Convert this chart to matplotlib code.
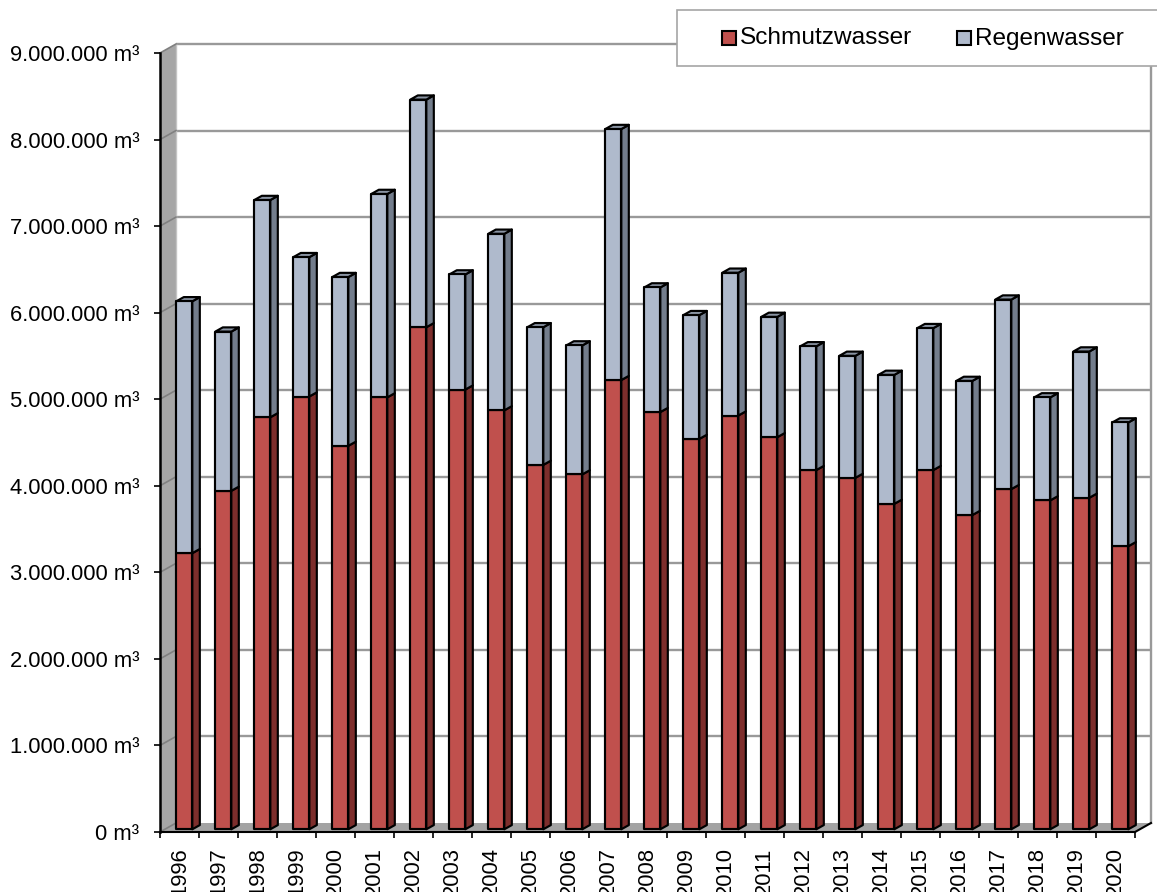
import matplotlib
matplotlib.use("Agg")
import matplotlib.pyplot as plt
from matplotlib.patches import Polygon, Rectangle
import numpy as np

# ---- data ----
years = [str(y) for y in range(1996, 2021)]
schmutzwasser = [3.19, 3.91, 4.76, 5.00, 4.43, 4.99, 5.80, 5.08, 4.84, 4.21,
                 4.10, 5.19, 4.82, 4.51, 4.78, 4.53, 4.15, 4.06, 3.76, 4.15,
                 3.63, 3.93, 3.80, 3.83, 3.27]          # million m³
gesamt = [6.10, 5.75, 7.27, 6.61, 6.38, 7.34, 8.43, 6.41, 6.88, 5.80,
          5.59, 8.09, 6.26, 5.94, 6.43, 5.92, 5.58, 5.47, 5.25, 5.79,
          5.18, 6.12, 4.99, 5.52, 4.70]                 # million m³ (total)
regenwasser = [g - s for g, s in zip(gesamt, schmutzwasser)]
series_names = ["Schmutzwasser", "Regenwasser"]
y_ticks = [0, 1, 2, 3, 4, 5, 6, 7, 8, 9]               # million m³

# ---- style ----
W, H = 1157, 892
plt.rcParams['font.family'] = ['Liberation Sans', 'DejaVu Sans']
red_front, red_side, red_top = "#c0504d", "#7d2e2c", "#9a3e3c"
blue_front, blue_side, blue_top = "#afbacc", "#737d8c", "#8a94a3"
wall_col = "#a6a6a6"
floor_col = "#a3a3a3"
grid_col = "#999999"

fig = plt.figure(figsize=(W / 100, H / 100), dpi=100)
ax = fig.add_axes([160 / W, (H - 832) / H, 975 / W, (832 - 53) / H])
n = len(years)
ymax = 9e6
ax.set_xlim(0, n)
ax.set_ylim(0, ymax)
ax.patch.set_visible(False)

# depth vector (back wall offset) in data units
px_per_cat = 975 / n
px_per_unit = (832 - 53) / ymax
Dx = 16 / px_per_cat
Dy = 9 / px_per_unit
f_front, g_depth = 0.30, 0.47
bar_w = 16 / px_per_cat

# side wall
ax.add_patch(Polygon([(0, 0), (Dx, Dy), (Dx, ymax + Dy), (0, ymax)],
                     closed=True, facecolor=wall_col, edgecolor="none",
                     zorder=0.2, clip_on=False))
# floor
ax.add_patch(Polygon([(0, 0), (n, 0), (n + Dx, Dy), (Dx, Dy)],
                     closed=True, facecolor=floor_col, edgecolor="none",
                     zorder=0.2, clip_on=False))
# gridlines (back wall + side wall diagonals)
for t in y_ticks:
    v = t * 1e6
    if t > 0:
        ax.plot([Dx, n + Dx], [v + Dy, v + Dy], color=grid_col, lw=1.7,
                zorder=0.5, clip_on=False, solid_capstyle='butt')
    ax.plot([0, Dx], [v, v + Dy], color="#808080", lw=1.2, zorder=0.6,
            clip_on=False)
# back wall right edge and left edge
ax.plot([n + Dx, n + Dx], [Dy, ymax + Dy], color=grid_col, lw=1.7,
        zorder=0.5, clip_on=False)
ax.plot([Dx, Dx], [Dy, ymax + Dy], color="#c4c4c4", lw=1.0,
        zorder=0.55, clip_on=False)
# right floor diagonal edge
ax.plot([n, n + Dx], [0, Dy], color="black", lw=1.5, zorder=3, clip_on=False)


def shifted(pts, frac):
    return [(x + frac * Dx, y + frac * Dy) for x, y in pts]


def draw_segment(x0, y0, y1, front, side, top, draw_top):
    x1 = x0 + bar_w
    f, b = f_front, f_front + g_depth
    ec = "black"
    lw = 1.55
    # side face
    side_pts = shifted([(x1, y0)], f) + shifted([(x1, y0)], b) + \
        shifted([(x1, y1)], b) + shifted([(x1, y1)], f)
    ax.add_patch(Polygon(side_pts, closed=True, facecolor=side, edgecolor=ec,
                         lw=lw, zorder=2, clip_on=False, joinstyle='round'))
    if draw_top:
        top_pts = shifted([(x0, y1), (x1, y1)], f) + shifted([(x1, y1), (x0, y1)], b)
        ax.add_patch(Polygon(top_pts, closed=True, facecolor=top, edgecolor=ec,
                             lw=lw, zorder=2, clip_on=False, joinstyle='round'))
    fx, fy = shifted([(x0, y0)], f)[0]
    ax.add_patch(Rectangle((fx, fy), bar_w, y1 - y0, facecolor=front,
                           edgecolor=ec, lw=lw, zorder=2.1, clip_on=False,
                           joinstyle='round'))


for i in range(n):
    x0 = i + 0.5 - bar_w / 2
    s = schmutzwasser[i] * 1e6
    r = regenwasser[i] * 1e6
    draw_segment(x0, 0, s, red_front, red_side, red_top, False)
    draw_segment(x0, s, s + r, blue_front, blue_side, blue_top, True)

# axes / spines
for sp in ["top", "right"]:
    ax.spines[sp].set_visible(False)
ax.spines["left"].set_linewidth(1.8)
ax.spines["bottom"].set_linewidth(1.5)
ax.spines["left"].set_zorder(3)
ax.spines["bottom"].set_zorder(3)

ax.set_yticks([t * 1e6 for t in y_ticks])
ax.set_yticklabels([f"{t * 1000000:,}".replace(",", ".") + " m³" for t in y_ticks])
ax.tick_params(axis="y", direction="out", length=4.5, width=1.2,
               labelsize=15.8, pad=10.5, colors="black")

ax.set_xticks(np.arange(n) + 0.5)
ax.set_xticklabels(years, rotation=90, va="top", ha="center")
ax.set_xticks(np.arange(n + 1), minor=True)
ax.tick_params(axis="x", which="major", length=0, labelsize=15.8, pad=11)
ax.tick_params(axis="x", which="minor", length=4.5, width=1.2, direction="out")

# legend (manual, extends beyond figure edge)
def fpx(x, y):
    return (x / W, 1 - y / H)

lx0, ly0 = fpx(677, 66)
fig.patches.append(Rectangle((lx0, ly0), (1165 - 677) / W, 56 / H,
                             transform=fig.transFigure, facecolor="white",
                             edgecolor="#a6a6a6", lw=1.2, zorder=10))
legend_items = [(series_names[0], red_front, 722, 740),
                (series_names[1], blue_front, 957, 975)]
for name, col, sx, tx in legend_items:
    bx, by = fpx(sx, 45)
    fig.patches.append(Rectangle((bx, by), 14 / W, 14 / H,
                                 transform=fig.transFigure, facecolor=col,
                                 edgecolor="black", lw=1.5, zorder=11))
    tx_, ty_ = fpx(tx, 38.5)
    fig.text(tx_, ty_, name, ha="left", va="center", fontsize=17.6,
             zorder=12)

fig.savefig("out.png", dpi=100)
